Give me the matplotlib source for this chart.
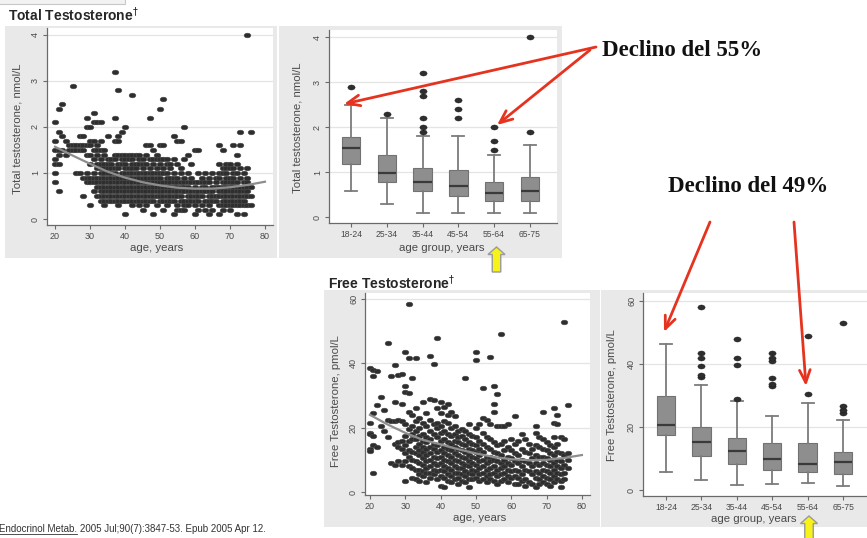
import matplotlib
matplotlib.use("Agg")
import matplotlib.pyplot as plt
from matplotlib.path import Path
from matplotlib.transforms import Affine2D
from matplotlib.patches import Rectangle, FancyArrow

plt.rcParams["font.family"] = ["Liberation Sans", "DejaVu Sans"]

W, H = 867, 538

# ---------------- data ----------------
ages = list(range(20, 77))

# total testosterone (nmol/L), one list of subjects per year of age
total_tt = [
    [2.1, 1.7, 1.5, 1.3, 1.2, 1.0, 0.8],                      # 20
    [2.4, 1.9, 1.5, 1.4, 1.2, 0.6],                           # 21
    [2.5, 1.8, 1.5],                                          # 22
    [1.7, 1.4],                                               # 23
    [1.6, 1.5],                                               # 24
    [2.9, 1.6, 1.5],                                          # 25
    [1.6, 1.5, 1.0],                                          # 26
    [1.8, 1.6, 1.5, 1.0],                                     # 27
    [1.8, 1.6, 1.5, 0.9, 0.5],                                # 28
    [2.2, 2.0, 1.6, 1.4, 1.0, 0.9, 0.8],                      # 29
    [2.0, 1.7, 1.6, 1.4, 1.2, 0.9, 0.8, 0.3],                 # 30
    [2.3, 2.1, 1.7, 1.5, 1.3, 1.0, 0.9, 0.8, 0.6],            # 31
    [2.1, 1.6, 1.5, 1.4, 1.2, 1.1, 0.9, 0.8, 0.7, 0.5],       # 32
    [2.1, 1.7, 1.5, 1.3, 1.2, 1.1, 1.0, 0.9, 0.8, 0.7, 0.6, 0.5, 0.4],
    [1.5, 1.4, 1.2, 1.1, 1.0, 0.9, 0.8, 0.7, 0.6, 0.5, 0.4, 0.3],
    [1.8, 1.3, 1.2, 1.1, 1.0, 0.9, 0.8, 0.7, 0.6, 0.5, 0.4],
    [1.3, 1.2, 1.1, 1.0, 0.9, 0.8, 0.7, 0.6, 0.5, 0.4],
    [3.2, 2.2, 1.7, 1.4, 1.3, 1.1, 1.0, 0.9, 0.8, 0.7, 0.6, 0.5, 0.4],
    [2.8, 1.8, 1.7, 1.4, 1.2, 1.1, 0.9, 0.8, 0.7, 0.6, 0.5, 0.4, 0.3],
    [1.9, 1.4, 1.3, 1.2, 1.0, 0.9, 0.8, 0.7, 0.6, 0.5, 0.4],
    [2.0, 1.4, 1.3, 1.2, 1.1, 1.0, 0.9, 0.8, 0.7, 0.6, 0.5, 0.4, 0.1],   # 40
    [1.4, 1.3, 1.1, 1.0, 0.9, 0.8, 0.7, 0.6, 0.5, 0.4],
    [2.7, 1.4, 1.3, 1.2, 1.1, 1.0, 0.9, 0.8, 0.7, 0.6, 0.5, 0.4, 0.3],
    [1.4, 1.2, 1.1, 1.0, 0.9, 0.8, 0.7, 0.6, 0.5, 0.4],
    [1.4, 1.3, 1.2, 1.0, 0.9, 0.8, 0.7, 0.6, 0.5, 0.4, 0.3],
    [1.3, 1.2, 1.1, 1.0, 0.9, 0.8, 0.7, 0.6, 0.5, 0.4, 0.2],
    [1.6, 1.4, 1.2, 1.0, 0.9, 0.8, 0.7, 0.6, 0.5, 0.4, 0.3],
    [2.2, 1.6, 1.3, 1.1, 1.0, 0.9, 0.8, 0.7, 0.6, 0.5, 0.4],
    [1.5, 1.3, 1.2, 1.0, 0.9, 0.8, 0.7, 0.6, 0.5, 0.4, 0.1],
    [1.4, 1.3, 1.1, 1.0, 0.9, 0.8, 0.7, 0.6, 0.5, 0.3],
    [2.4, 1.6, 1.3, 1.2, 1.0, 0.9, 0.8, 0.7, 0.6, 0.5, 0.4],   # 50
    [2.6, 1.6, 1.3, 1.1, 1.0, 0.8, 0.7, 0.6, 0.5, 0.4, 0.2],
    [1.3, 1.2, 1.0, 0.9, 0.8, 0.7, 0.6, 0.5, 0.4, 0.3],
    [1.2, 1.1, 0.9, 0.8, 0.7, 0.6, 0.5, 0.4],
    [1.8, 1.3, 1.0, 0.9, 0.8, 0.7, 0.6, 0.5, 0.4, 0.1],
    [1.7, 1.2, 0.9, 0.8, 0.7, 0.6, 0.5, 0.3, 0.2],
    [1.7, 1.1, 1.0, 0.8, 0.7, 0.6, 0.5, 0.4, 0.2],
    [2.0, 1.3, 0.9, 0.8, 0.7, 0.6, 0.4, 0.3, 0.2],
    [1.4, 1.0, 0.8, 0.7, 0.6, 0.5, 0.4, 0.3],
    [1.2, 0.9, 0.8, 0.6, 0.5, 0.4],
    [1.5, 0.8, 0.7, 0.6, 0.5, 0.4, 0.3, 0.1],                 # 60
    [1.5, 1.0, 0.8, 0.6, 0.5, 0.4, 0.2],
    [0.9, 0.8, 0.7, 0.6, 0.5, 0.3],
    [1.0, 0.8, 0.7, 0.6, 0.4, 0.2],
    [0.9, 0.8, 0.6, 0.5, 0.4, 0.3, 0.1],
    [1.0, 0.7, 0.6, 0.5, 0.4, 0.2],
    [0.9, 0.8, 0.7, 0.5, 0.4],
    [1.6, 1.2, 1.0, 0.9, 0.7, 0.6, 0.5, 0.3, 0.1],
    [1.5, 1.1, 1.0, 0.8, 0.7, 0.6, 0.5, 0.4, 0.3, 0.2],
    [1.2, 1.1, 1.0, 0.9, 0.8, 0.7, 0.6, 0.5, 0.4, 0.3],
    [1.2, 1.1, 0.9, 0.8, 0.7, 0.6, 0.5, 0.4, 0.3, 0.2],       # 70
    [1.6, 1.1, 1.0, 0.9, 0.8, 0.7, 0.6, 0.5, 0.4, 0.3],
    [1.4, 1.2, 1.0, 0.8, 0.7, 0.6, 0.5, 0.4, 0.3, 0.1],
    [1.9, 1.6, 1.1, 0.9, 0.7, 0.6, 0.5, 0.4, 0.3],
    [1.0, 0.8, 0.7, 0.6, 0.5, 0.4, 0.3, 0.1],
    [4.0, 1.1, 0.9, 0.8, 0.7, 0.6, 0.5, 0.3],
    [1.9, 0.7, 0.5, 0.3],                                     # 76
]

# free testosterone (pmol/L), same layout
free_tt = [
    [38.5, 21.5, 18.5, 18.0, 13.5, 12.8],                     # 20
    [38.0, 36.0, 24.5, 17.5, 14.5, 6.0],
    [37.5, 27.0, 14.0],
    [29.5, 20.5],
    [25.5, 19.0],
    [46.2, 22.5, 17.2],
    [36.0, 22.0, 9.0],
    [39.5, 28.0, 22.0, 15.0, 8.5],
    [36.3, 22.5, 15.5, 14.0, 9.5],
    [36.6, 27.5, 22.0, 16.0, 13.5, 8.5],
    [43.5, 33.0, 31.0, 21.0, 17.5, 14.5, 12.0, 9.5, 3.5],     # 30
    [58.4, 41.7, 30.8, 25.0, 19.5, 16.0, 13.0, 11.0, 8.0],
    [35.6, 24.0, 20.5, 18.0, 16.5, 12.5, 10.0, 7.5, 4.5],
    [41.7, 26.0, 22.0, 19.0, 16.5, 14.0, 12.0, 9.5, 7.0, 4.0],
    [23.0, 20.0, 17.5, 15.0, 13.0, 11.5, 9.0, 7.0, 5.5, 3.5],
    [28.0, 21.5, 18.0, 16.0, 14.0, 12.5, 10.5, 8.5, 6.5, 5.0],
    [24.5, 20.5, 17.0, 15.5, 13.5, 11.5, 9.5, 7.5, 6.0, 3.0],
    [42.3, 29.0, 22.5, 19.0, 16.5, 14.0, 12.0, 10.0, 8.0, 6.0, 4.5],
    [39.7, 28.5, 21.0, 18.0, 15.0, 13.5, 11.0, 9.0, 7.0, 5.5],
    [48.0, 26.0, 21.5, 20.0, 17.0, 14.5, 12.5, 10.5, 8.5, 6.5, 4.0],
    [28.0, 24.5, 20.5, 18.5, 16.0, 13.0, 11.0, 9.0, 7.0, 5.0, 2.0],   # 40
    [26.5, 22.0, 19.0, 16.5, 14.0, 12.0, 10.0, 8.0, 6.5, 4.5, 1.5],
    [27.5, 24.0, 21.5, 18.0, 15.5, 13.5, 11.5, 9.5, 7.5, 5.5, 3.5],
    [25.0, 20.0, 17.5, 15.0, 13.0, 11.0, 9.0, 7.0, 5.0, 3.0],
    [23.5, 20.5, 18.0, 16.0, 14.0, 12.0, 10.0, 8.0, 6.0, 4.0],
    [19.0, 17.0, 15.5, 13.5, 11.5, 9.5, 7.5, 6.0, 4.5, 2.5],
    [19.5, 17.5, 15.0, 13.0, 11.0, 9.0, 7.5, 5.5, 3.5],
    [35.4, 19.0, 16.5, 14.5, 12.5, 10.5, 8.5, 6.5, 5.0, 3.0],
    [21.0, 18.0, 15.5, 13.5, 11.5, 9.5, 8.0, 6.0, 4.0, 1.5],
    [17.5, 15.0, 13.0, 11.0, 9.0, 7.0, 5.5, 4.0],
    [43.5, 41.0, 20.0, 17.0, 14.5, 12.5, 10.5, 8.5, 6.5, 4.5],   # 50
    [21.0, 16.0, 13.5, 11.5, 9.5, 7.5, 5.5, 3.5],
    [32.5, 23.0, 18.5, 15.0, 12.5, 10.0, 8.0, 6.0, 4.0],
    [22.5, 17.0, 14.0, 11.0, 9.0, 7.0, 5.0, 3.0],
    [42.0, 21.0, 16.5, 13.5, 11.0, 9.5, 7.5, 5.5, 4.0],
    [33.0, 27.5, 25.0, 15.5, 12.5, 10.0, 8.0, 6.0, 3.5],
    [30.5, 20.5, 14.5, 12.0, 9.5, 7.0, 5.0, 2.5],
    [49.0, 20.5, 15.0, 11.5, 9.0, 7.5, 5.5, 3.5],
    [20.5, 16.0, 13.0, 10.0, 8.0, 6.0, 4.0],
    [21.0, 14.0, 11.0, 9.0, 7.0, 5.0, 3.0],
    [16.5, 13.0, 10.5, 8.5, 6.5, 4.5],                        # 60
    [23.5, 15.0, 12.0, 9.5, 7.0, 5.0, 2.5],
    [16.0, 11.5, 9.0, 6.5, 4.5, 2.5],
    [18.0, 13.5, 10.0, 8.0, 5.5, 3.5],
    [16.5, 12.5, 9.5, 7.0, 4.0, 2.0],
    [15.0, 12.0, 9.0, 6.5, 3.0],
    [13.5, 10.5, 8.0, 5.5, 2.5],
    [20.5, 18.5, 14.5, 11.5, 9.0, 6.5, 4.5, 1.5],
    [17.0, 14.0, 11.0, 8.5, 6.0, 4.0, 2.5],
    [25.0, 16.5, 13.5, 11.0, 9.0, 7.0, 5.0, 3.0],
    [15.5, 13.0, 10.5, 8.5, 6.5, 4.5, 2.5],                   # 70
    [14.5, 12.0, 10.0, 8.0, 6.0, 4.0, 2.0],
    [26.0, 21.5, 17.0, 14.0, 11.5, 9.0, 7.0, 5.0, 3.0],
    [24.0, 21.0, 15.0, 12.5, 10.0, 8.0, 6.0, 4.0],
    [17.0, 12.0, 9.5, 7.5, 5.5, 3.5, 1.5],
    [52.8, 16.5, 11.5, 8.5, 6.0, 4.0],
    [27.0, 12.0, 10.0, 7.5],                                  # 76
]

# smoothed trend lines
fit_age = [20, 25, 30, 35, 40, 45, 50, 55, 60, 65, 70, 75, 80]
fit_total = [1.57, 1.38, 1.20, 1.03, 0.90, 0.80, 0.73, 0.68, 0.66, 0.66, 0.69, 0.74, 0.81]
fit_free = [24.0, 21.0, 18.4, 16.2, 14.8, 13.3, 12.0, 10.9, 10.2, 9.9, 10.0, 10.6, 11.5]

age_groups = ["18-24", "25-34", "35-44", "45-54", "55-64", "65-75"]

total_q1 = [1.19, 0.78, 0.58, 0.47, 0.37, 0.37]
total_med = [1.54, 0.99, 0.79, 0.69, 0.54, 0.59]
total_q3 = [1.79, 1.39, 1.09, 1.04, 0.78, 0.89]
total_lo = [0.59, 0.30, 0.10, 0.10, 0.10, 0.10]
total_hi = [2.50, 2.20, 1.80, 1.80, 1.39, 1.60]
total_out = [[2.9], [2.3], [1.9, 2.0, 2.2, 2.7, 2.8, 3.2], [2.2, 2.4, 2.6],
             [1.5, 1.7, 2.0], [1.9, 4.0]]

free_q1 = [17.4, 10.8, 8.4, 6.5, 5.8, 5.0]
free_med = [20.6, 15.3, 12.5, 9.8, 8.4, 9.0]
free_q3 = [29.8, 20.1, 16.6, 15.0, 14.8, 12.0]
free_lo = [5.8, 3.2, 1.6, 1.9, 2.3, 1.4]
free_hi = [46.3, 33.2, 28.2, 23.4, 27.7, 22.2]
free_out = [[], [36.0, 36.5, 39.5, 42.0, 43.5, 58.0], [29.0, 39.7, 42.0, 48.0],
            [33.0, 33.5, 35.5, 41.0, 42.0, 43.5], [30.5, 49.0], [24.5, 25.5, 26.5, 53.0]]

# ---------------- styling ----------------
PANEL = "#E9E9E9"
AXIS = "#6A6A6A"
TXT = "#4A4A4A"
DOT = "#2E2E2E"
RED = "#E5331F"
dot = Path.unit_circle().transformed(Affine2D().scale(1.0, 0.7))

fig = plt.figure(figsize=(W / 100, H / 100), dpi=100)


def px_axes(left, top, right, bottom, **kw):
    return fig.add_axes([left / W, 1 - bottom / H, (right - left) / W, (bottom - top) / H], **kw)


bg = px_axes(0, 0, W, H, zorder=-5)
bg.set_xlim(0, W)
bg.set_ylim(H, 0)
bg.axis("off")
for x0, y0, x1, y1 in [(5, 26, 277, 258), (279, 26, 562, 258),
                       (324, 290, 600, 527), (601, 290, 868, 527)]:
    bg.add_patch(Rectangle((x0, y0), x1 - x0, y1 - y0, facecolor=PANEL, edgecolor="none"))
bg.add_patch(Rectangle((-2, -2), 127, 6, facecolor="#F2F2F2", edgecolor="#C8C8C8", lw=0.8))


def stata_style(ax, yticks):
    ax.set_facecolor("white")
    for s in ("top", "right"):
        ax.spines[s].set_visible(False)
    for s in ("left", "bottom"):
        ax.spines[s].set_color(AXIS)
        ax.spines[s].set_linewidth(0.9)
    ax.tick_params(colors=AXIS, labelcolor=TXT, labelsize=6.5, length=3, width=0.8, pad=2)
    ax.set_yticks(yticks)
    ax.set_yticklabels([str(t) for t in yticks], rotation=90, va="center")
    for y in yticks[1:]:
        ax.axhline(y, color="#E4E4E4", lw=0.9, zorder=0)


def scatter_panel(ax, values, fit, yticks):
    xs = [a for a, vals in zip(ages, values) for v in vals]
    ys = [v for vals in values for v in vals]
    ax.scatter(xs, ys, s=23, marker=dot, facecolor=DOT, edgecolor="#4A4A4A", linewidths=0.4, zorder=2)
    ax.plot(fit_age, fit, color="#8E8E8E", lw=1.6, zorder=3)
    stata_style(ax, yticks)
    ax.set_xticks([20, 30, 40, 50, 60, 70, 80])


def box_panel(ax, q1, med, q3, lo, hi, out, yticks):
    stats = [dict(med=m, q1=a, q3=b, whislo=l, whishi=h, fliers=f, label=g)
             for g, a, m, b, l, h, f in zip(age_groups, q1, med, q3, lo, hi, out)]
    ax.bxp(stats, positions=range(1, 7), widths=0.52, capwidths=0.34, patch_artist=True,
           boxprops=dict(facecolor="#8E8E8E", edgecolor="#727272", linewidth=0.8),
           whiskerprops=dict(color="#7C7C7C", linewidth=1.3),
           capprops=dict(color="#7C7C7C", linewidth=1.3),
           medianprops=dict(color="#3A3A3A", linewidth=1.6),
           flierprops=dict(marker=dot, markerfacecolor=DOT, markeredgecolor="#1E1E1E",
                           markeredgewidth=0.3, markersize=5.2))
    stata_style(ax, yticks)
    ax.tick_params(axis="x", labelsize=6.2)


ax1 = px_axes(47, 28, 273, 225)
scatter_panel(ax1, total_tt, fit_total, [0, 1, 2, 3, 4])
ax1.set_xlim(17.7, 82.3)
ax1.set_ylim(-0.13, 4.15)

ax2 = px_axes(329, 30, 557, 223)
box_panel(ax2, total_q1, total_med, total_q3, total_lo, total_hi, total_out, [0, 1, 2, 3, 4])
ax2.set_xlim(0.38, 6.76)
ax2.set_ylim(-0.13, 4.16)

ax3 = px_axes(365, 293, 590, 495)
scatter_panel(ax3, free_tt, fit_free, [0, 20, 40, 60])
ax3.set_xlim(18.6, 82.3)
ax3.set_ylim(-0.93, 61.9)

ax4 = px_axes(643, 293, 870, 496)
box_panel(ax4, free_q1, free_med, free_q3, free_lo, free_hi, free_out, [0, 20, 40, 60])
ax4.set_xlim(0.35, 6.76)
ax4.set_ylim(-1.9, 62.5)

# ---------------- overlay: titles, labels, arrows ----------------
ov = px_axes(0, 0, W, H, zorder=10)
ov.set_xlim(0, W)
ov.set_ylim(H, 0)
ov.axis("off")
ov.patch.set_visible(False)

ov.text(8, 15, r"Total Testosterone$^{\dagger}$", fontsize=10, fontweight="bold",
        color="#262626", va="center", ha="left")
ov.text(328, 283, r"Free Testosterone$^{\dagger}$", fontsize=10, fontweight="bold",
        color="#262626", va="center", ha="left")

lab = dict(fontsize=8.2, color=TXT, ha="center", va="center")
ov.text(18, 129, "Total testosterone, nmol/L", rotation=90, **lab)
ov.text(157, 248, "age, years", **lab)
ov.text(297, 128, "Total testosterone, nmol/L", rotation=90, **lab)
ov.text(442, 248, "age group, years", **lab)
ov.text(336, 401, "Free Testosterone, pmol/L", rotation=90, **lab)
ov.text(480, 518, "age, years", **lab)
ov.text(612, 395, "Free Testosterone, pmol/L", rotation=90, **lab)
ov.text(754, 519, "age group, years", **lab)

serif = dict(fontsize=16.5, fontweight="bold", family="Liberation Serif", color="#111111",
             va="center", ha="left")
ov.text(602, 50, "Declino del 55%", **serif)
ov.text(668, 187, "Declino del 49%", **serif)

arrow = dict(arrowstyle="->,head_length=0.75,head_width=0.32", color=RED, lw=2.0,
             shrinkA=0, shrinkB=0, mutation_scale=12)
for start, end in [((596, 47), (344, 104)), ((590, 50), (497, 125)),
                   ((710, 222), (664, 332)), ((794, 222), (806, 386))]:
    ov.annotate("", xy=end, xytext=start, arrowprops=arrow)

for x, tip, base in [(496.5, 247, 272), (809, 516, 541)]:
    ov.add_patch(FancyArrow(x, base, 0, tip - base, width=8.5, head_width=17, head_length=7.5,
                            length_includes_head=True, facecolor="#F7F21A",
                            edgecolor="#9A9A9A", lw=1.0))

# citation line, journal name underlined
cite = ov.text(-1, 532, "Endocrinol Metab.", fontsize=7, color="#333333", va="baseline")
fig.canvas.draw()
bb = cite.get_window_extent().transformed(ov.transData.inverted())
ov.plot([bb.x0, bb.x1], [533.5, 533.5], color="#333333", lw=0.6)
ov.text(bb.x1 + 3, 532, "2005 Jul;90(7):3847-53. Epub 2005 Apr 12.", fontsize=7,
        color="#333333", va="baseline")

fig.savefig("out.png", dpi=100)
